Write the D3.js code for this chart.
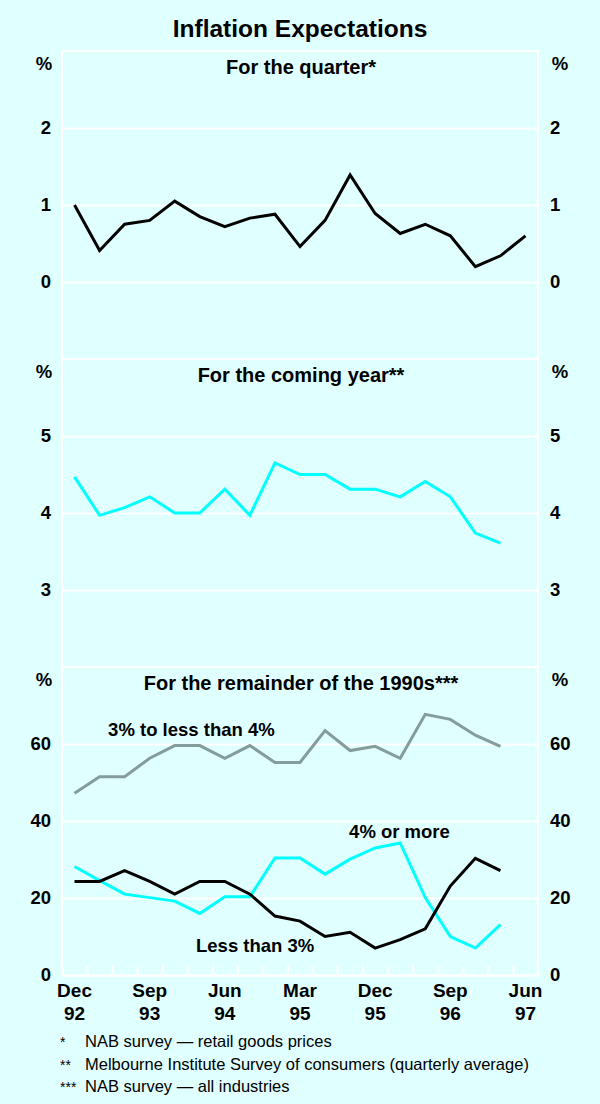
<!DOCTYPE html>
<html>
<head>
<meta charset="utf-8">
<script src="https://cdnjs.cloudflare.com/ajax/libs/d3/7.8.5/d3.min.js"></script>
<style>
  body { margin: 0; background: #e0ffff; }
  text { font-family: "Liberation Sans", Arial, sans-serif; fill: #000; }
</style>
</head>
<body>
<svg id="chart"></svg>
<script>
// quarters Dec-92 .. Jun-97
const quarters = ["Dec-92","Mar-93","Jun-93","Sep-93","Dec-93","Mar-94","Jun-94","Sep-94","Dec-94",
                  "Mar-95","Jun-95","Sep-95","Dec-95","Mar-96","Jun-96","Sep-96","Dec-96","Mar-97","Jun-97"];
const xMonths = ["Dec","Sep","Jun","Mar","Dec","Sep","Jun"];
const xYears = ["92","93","94","95","95","96","97"];
const xLabelIdx = [0, 3, 6, 9, 12, 15, 18];

// For the quarter (NAB retail goods prices)
const forQuarter = [1.0, 0.41, 0.75, 0.80, 1.05, 0.85, 0.72, 0.83, 0.88, 0.46,
                    0.80, 1.39, 0.89, 0.63, 0.75, 0.60, 0.20, 0.34, 0.60];
// For the coming year (Melbourne Institute)
const comingYear = [4.47, 3.97, 4.07, 4.21, 4.0, 4.0, 4.31, 3.97, 4.65, 4.50,
                    4.50, 4.31, 4.31, 4.21, 4.41, 4.21, 3.74, 3.61];
// For the remainder of the 1990s (NAB all industries)
const midRange = [47.2, 51.5, 51.5, 56.3, 59.6, 59.6, 56.3, 59.6, 55.2, 55.2,
                  63.5, 58.3, 59.4, 56.3, 67.7, 66.4, 62.3, 59.4];
const fourOrMore = [28.2, 24.5, 21.0, 20.1, 19.2, 16.0, 20.3, 20.3, 30.4, 30.4,
                    26.2, 30.1, 33.0, 34.3, 20.1, 10.0, 7.0, 13.1];
const lessThan3 = [24.3, 24.3, 27.1, 24.3, 21.0, 24.3, 24.3, 21.0, 15.3, 14.0,
                   10.0, 11.1, 7.0, 9.2, 12.0, 23.1, 30.3, 27.1];

const ticks1 = [0, 1, 2];
const ticks2 = [3, 4, 5];
const ticks3 = [0, 20, 40, 60];

const footnotes = [
  ["*", "NAB survey \u2014 retail goods prices"],
  ["**", "Melbourne Institute Survey of consumers (quarterly average)"],
  ["***", "NAB survey \u2014 all industries"]
];

const width = 600, height = 1104;
const left = 62, right = 538;
const plotTop = 51, panelH = 308;
const bg = "#e0ffff";
const labelFont = "18.5px";

const svg = d3.select("#chart").attr("width", width).attr("height", height);
svg.append("rect").attr("width", width).attr("height", height).attr("fill", bg);

const x = d3.scaleLinear().domain([0, quarters.length]).range([left, right]);

svg.append("text")
  .attr("x", 300).attr("y", 37)
  .attr("text-anchor", "middle")
  .style("font-size", "24.5px").style("font-weight", "bold")
  .text("Inflation Expectations");

const panels = [
  { title: "For the quarter*", domain: [-1, 3], ticks: ticks1,
    series: [{ values: forQuarter, color: "#000" }] },
  { title: "For the coming year**", domain: [2, 6], ticks: ticks2,
    series: [{ values: comingYear, color: "#00ffff" }] },
  { title: "For the remainder of the 1990s***", domain: [0, 80], ticks: ticks3,
    series: [{ values: midRange, color: "#849c9c" },
             { values: fourOrMore, color: "#00ffff" },
             { values: lessThan3, color: "#000" }] }
];

panels.forEach((p, i) => {
  const y0 = plotTop + i * panelH;
  const y = d3.scaleLinear().domain(p.domain).range([y0 + panelH, y0]);

  // gridlines + left labels
  const gl = svg.append("g")
    .attr("transform", `translate(${left},0)`)
    .call(d3.axisLeft(y).tickValues(p.ticks).tickFormat(d3.format("d"))
      .tickSize(-(right - left)).tickPadding(11));
  gl.select(".domain").remove();
  gl.selectAll("line").attr("stroke", "#fff").attr("stroke-width", 2);
  gl.selectAll("text").style("font-size", labelFont).style("font-weight", "bold")
    .style("font-family", "Liberation Sans, Arial, sans-serif").attr("fill", "#000");

  const gr = svg.append("g")
    .attr("transform", `translate(${right},0)`)
    .call(d3.axisRight(y).tickValues(p.ticks).tickFormat(d3.format("d"))
      .tickSize(0).tickPadding(12));
  gr.select(".domain").remove();
  gr.selectAll("text").style("font-size", labelFont).style("font-weight", "bold")
    .style("font-family", "Liberation Sans, Arial, sans-serif").attr("fill", "#000");

  // panel top line
  svg.append("line")
    .attr("x1", left).attr("x2", right).attr("y1", y0).attr("y2", y0)
    .attr("stroke", "#fff").attr("stroke-width", 2);

  svg.append("text")
    .attr("x", 44).attr("y", y0 + 19).attr("text-anchor", "middle")
    .style("font-size", labelFont).style("font-weight", "bold").text("%");
  svg.append("text")
    .attr("x", 560).attr("y", y0 + 19).attr("text-anchor", "middle")
    .style("font-size", labelFont).style("font-weight", "bold").text("%");

  svg.append("text")
    .attr("x", 301).attr("y", y0 + 23).attr("text-anchor", "middle")
    .style("font-size", "20px").style("font-weight", "bold").text(p.title);

  const line = d3.line().x((d, j) => x(j + 0.5)).y(d => y(d));
  p.series.forEach(s => {
    svg.append("path")
      .datum(s.values)
      .attr("d", line)
      .attr("fill", "none")
      .attr("stroke", s.color)
      .attr("stroke-width", 3)
      .attr("stroke-linejoin", "miter");
  });
});

// frame sides
[left, right].forEach(xx => {
  svg.append("line")
    .attr("x1", xx).attr("x2", xx).attr("y1", plotTop).attr("y2", plotTop + 3 * panelH)
    .attr("stroke", "#fff").attr("stroke-width", 2);
});

// bottom axis with quarter ticks
const xa = svg.append("g")
  .attr("transform", `translate(0,${plotTop + 3 * panelH})`)
  .call(d3.axisBottom(x).tickValues(d3.range(1, quarters.length)).tickSize(-9).tickFormat(""));
xa.select(".domain").attr("stroke", "#fff").attr("stroke-width", 2);
xa.selectAll("line").attr("stroke", "#fff").attr("stroke-width", 2);

const xl = svg.append("g");
xLabelIdx.forEach((q, k) => {
  const t = xl.append("text")
    .attr("x", x(q + 0.5)).attr("y", 997)
    .attr("text-anchor", "middle")
    .style("font-size", "19px").style("font-weight", "bold");
  t.append("tspan").attr("x", x(q + 0.5)).text(xMonths[k]);
  t.append("tspan").attr("x", x(q + 0.5)).attr("dy", 23).text(xYears[k]);
});

// series labels, bottom panel
const y3 = d3.scaleLinear().domain([0, 80]).range([plotTop + 3 * panelH, plotTop + 2 * panelH]);
const seriesLabels = [
  { text: "3% to less than 4%", at: 1.84, value: 62 },
  { text: "4% or more", at: 11.46, value: 35.6 },
  { text: "Less than 3%", at: 5.35, value: 6.0 }
];
seriesLabels.forEach(l => {
  svg.append("text")
    .attr("x", x(l.at)).attr("y", y3(l.value))
    .style("font-size", "18.5px").style("font-weight", "bold").text(l.text);
});

// footnotes
footnotes.forEach((f, i) => {
  svg.append("text").attr("x", 60).attr("y", 1047 + i * 22.5)
    .style("font-size", "14px").text(f[0]);
  svg.append("text").attr("x", 85).attr("y", 1047 + i * 22.5)
    .style("font-size", "16.5px").text(f[1]);
});
</script>
</body>
</html>
